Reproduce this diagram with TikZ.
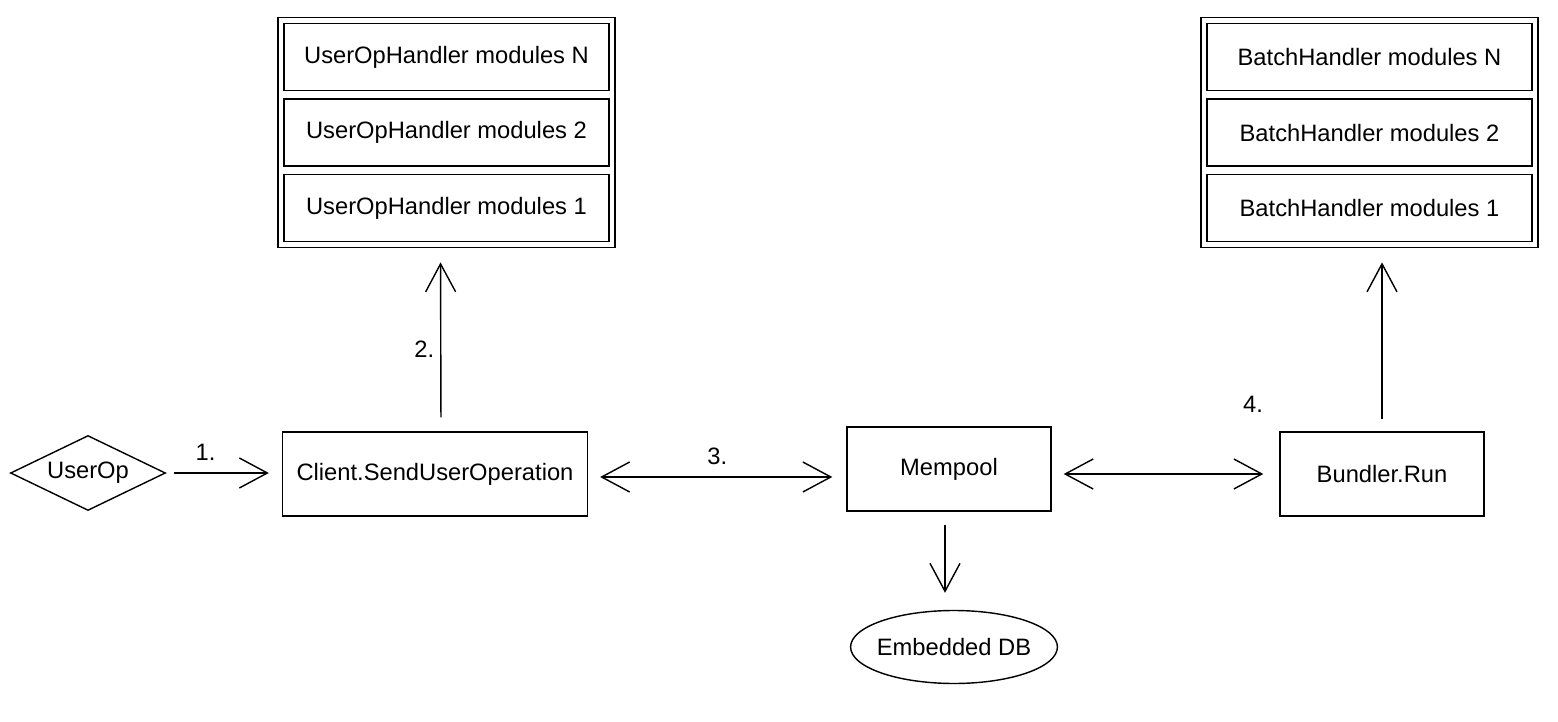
\documentclass[tikz,border=0pt]{standalone}
\usepackage{fontspec}
\setmainfont{Liberation Sans}
\usetikzlibrary{arrows.meta,shapes.geometric,fit,positioning}
\tikzset{>={Straight Barb[length=0.56cm,width=0.6cm]}}
\tikzset{
  box/.style={draw,minimum width=#1,minimum height=1.68cm},
  module/.style={draw,minimum width=6.5cm,minimum height=1.34cm},
  stack/.style={draw,inner sep=0.11cm},
  lbl/.style={inner sep=0.333em}
}

\begin{document}
\begin{tikzpicture}[x=0.02cm,y=-0.02cm,line width=0.8pt,font=\fontsize{13.5}{16}\selectfont]
    \useasboundingbox (0,0) rectangle (1558,722);

    \node[draw,diamond,aspect=2.07,inner sep=0pt,minimum width=3.1cm,minimum height=1.5cm] (userop) at (88,473) {UserOp};
    \node[box=6.1cm] (client) at (435,474) {Client.SendUserOperation};
    \node[box=4.08cm] (mempool) at (949,469) {Mempool};
    \node[box=4.08cm] (bundler) at (1382,474) {Bundler.Run};
    \node[draw,ellipse,inner xsep=-0.08cm,inner ysep=0pt,minimum width=4.12cm,minimum height=1.46cm] (db) at (954,647) {Embedded DB};

    % handler stacks
    \node[module] (uop1) at (446.5,208) {UserOpHandler modules 1};
    \node[module,above=0.14cm of uop1] (uop2) {UserOpHandler modules 2};
    \node[module,above=0.14cm of uop2] (uopN) {UserOpHandler modules N};
    \node[stack,fit=(uop1)(uopN)] (uops) {};

    \node[module] (bat1) at (1369.5,208) {BatchHandler modules 1};
    \node[module,above=0.14cm of bat1] (bat2) {BatchHandler modules 2};
    \node[module,above=0.14cm of bat2] (batN) {BatchHandler modules N};
    \node[stack,fit=(bat1)(batN)] (bats) {};

    % flow
    \draw[->,shorten <=0.16cm,shorten >=0.26cm] (userop.east) -- (userop.east -| client.west)
        node[lbl,pos=0.34,above=0.12cm] (l1) {1.};
    \draw[->,shorten <=0.28cm,shorten >=0.28cm] ([xshift=0.12cm]client.north) -- ([xshift=-0.12cm]uops.south)
        node[lbl,pos=0.45,left] (l2) {2.};
    \draw[<->,shorten <=0.24cm,shorten >=0.28cm] ([yshift=-0.06cm]client.east) -- ([yshift=-0.06cm]client.east -| mempool.west)
        node[lbl,midway,above=0.12cm] (l3) {3.};
    \draw[<->,shorten <=0.24cm,shorten >=0.32cm] (bundler.west -| mempool.east) -- (bundler.west);
    \draw[->,shorten <=0.24cm,shorten >=0.28cm] (bundler.north) -- (bundler.north |- bats.south)
        node[lbl,pos=0.15,left=2.25cm] (l4) {4.};
    \draw[->,shorten <=0.26cm,shorten >=0.34cm] ([xshift=-0.08cm]mempool.south) -- ([xshift=-0.08cm]mempool.south |- db.north);
\end{tikzpicture}
\end{document}
